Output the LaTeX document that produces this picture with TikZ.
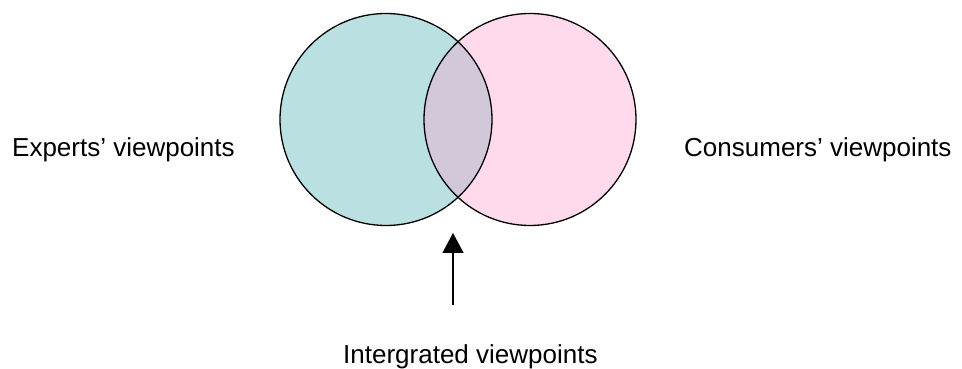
\documentclass[tikz,border=0pt]{standalone}
\usepackage{fontspec}
\setmainfont{Liberation Sans}
\usetikzlibrary{arrows.meta}
\definecolor{expfill}{RGB}{186,224,226}
\definecolor{confill}{RGB}{255,218,236}
\definecolor{midfill}{RGB}{211,199,218}
\tikzset{
  lbl/.style={font=\fontsize{26}{30}\selectfont, inner sep=0pt, anchor=base west},
  ring/.style={draw=black, line width=1.3pt},
  pointer/.style={draw=black, line width=1.3pt, -{Triangle[length=20pt,width=21pt]}}
}
\begin{document}
\begin{tikzpicture}[x=1pt,y=1pt]
\useasboundingbox (0,0) rectangle (962,369);
\coordinate (cl) at (386,249.5);
\coordinate (cr) at (530,249.5);
\fill[expfill] (cl) circle (106);
\fill[confill] (cr) circle (106);
\begin{scope}
  \clip (cl) circle (106);
  \fill[midfill] (cr) circle (106);
\end{scope}
\draw[ring] (cl) circle (106);
\draw[ring] (cr) circle (106);
\node[lbl] (exp) at (12,212) {Experts’ viewpoints};
\node[lbl] (con) at (684,212) {Consumers’ viewpoints};
\node[lbl] (int) at (343,5) {Intergrated viewpoints};
\coordinate (tail) at (453,64);
\coordinate (tip) at (453,136);
\draw[pointer] (tail) -- (tip);
\end{tikzpicture}
\end{document}
